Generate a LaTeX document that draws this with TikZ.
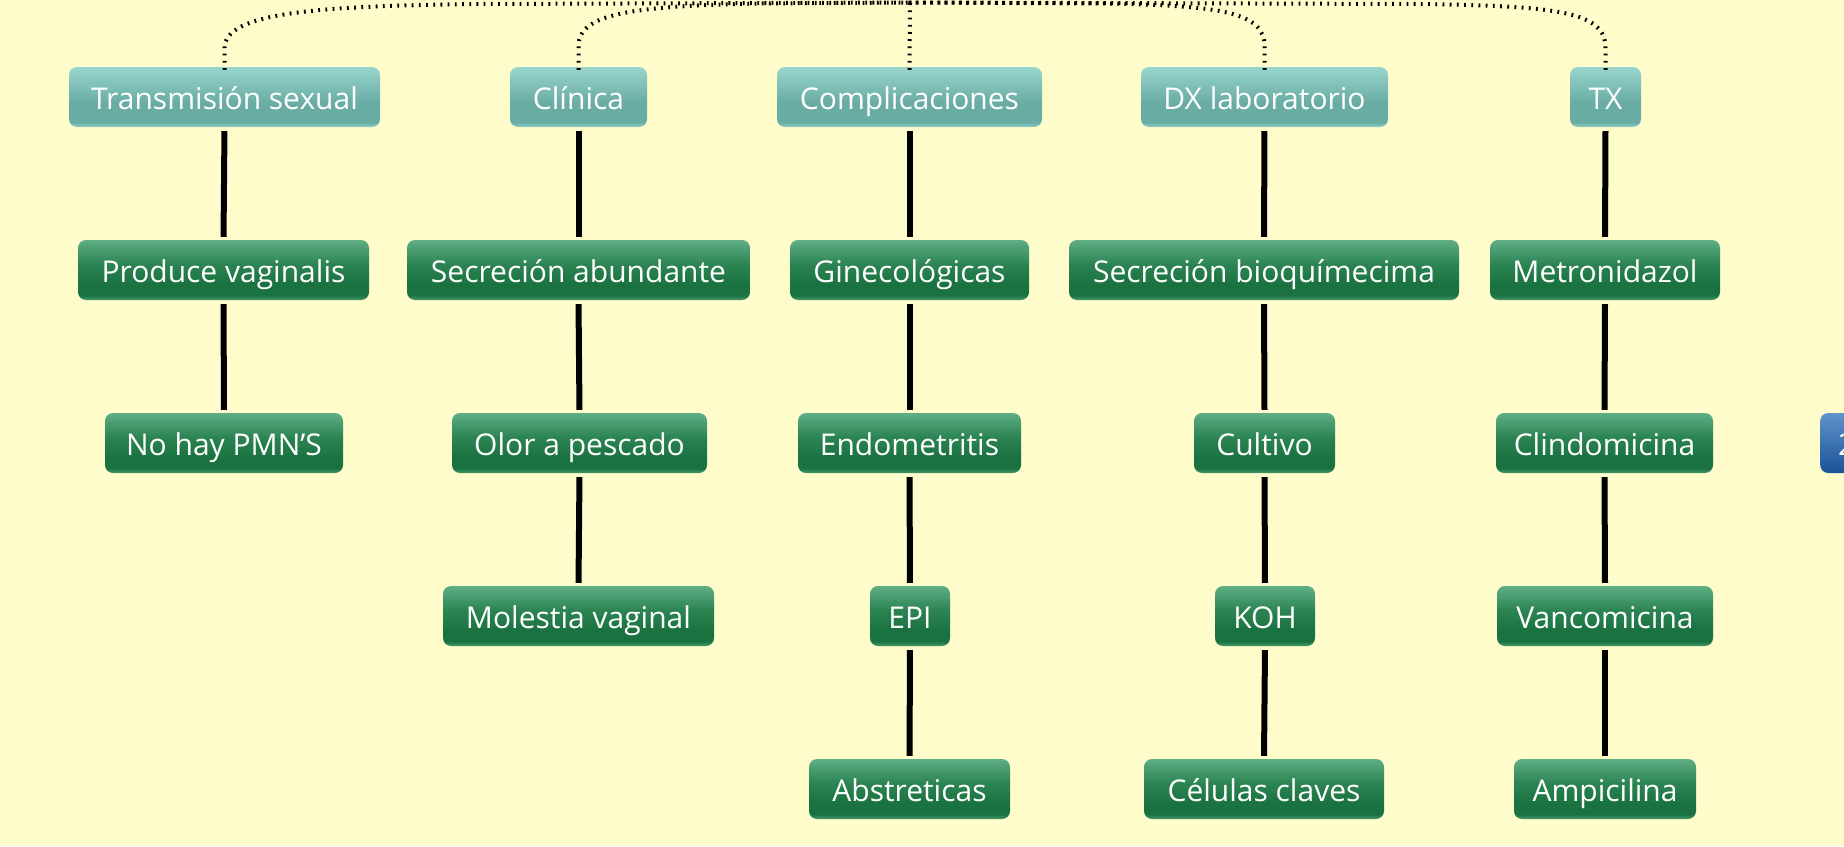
\documentclass[tikz,border=0pt]{standalone}
\usepackage{fontspec}
\setmainfont{Open Sans}
\definecolor{bg}{HTML}{FFFCCB}
\definecolor{ttop}{HTML}{98D5CD}
\definecolor{tbot}{HTML}{69ACA4}
\definecolor{tedge}{HTML}{92CFC7}
\definecolor{gtop}{HTML}{5FAE84}
\definecolor{gmid}{HTML}{2C8453}
\definecolor{gbot}{HTML}{1A7240}
\definecolor{gedge}{HTML}{47986C}
\definecolor{btop}{HTML}{5E93CC}
\definecolor{bbot}{HTML}{1C5297}
\pgfdeclareverticalshading{tealshade}{100bp}{color(0bp)=(tedge); color(25bp)=(tedge); color(29bp)=(tbot); color(45bp)=(tbot); color(75bp)=(ttop); color(100bp)=(ttop)}
\pgfdeclareverticalshading{greenshade}{100bp}{color(0bp)=(gedge); color(25bp)=(gedge); color(29bp)=(gbot); color(38bp)=(gbot); color(55bp)=(gmid); color(75bp)=(gtop); color(100bp)=(gtop)}
\pgfdeclareverticalshading{blueshade}{100bp}{color(0bp)=(bbot); color(25bp)=(bbot); color(75bp)=(btop); color(100bp)=(btop)}
\tikzset{
  box/.style={rounded corners=8pt, minimum height=60pt, inner xsep=6pt, inner ysep=0pt,
    text height=30pt, text depth=6pt,
    text=white, font=\fontsize{30}{36}\selectfont, anchor=center},
  topbox/.style={box, shading=tealshade},
  subbox/.style={box, shading=greenshade},
  bluebox/.style={box, shading=blueshade},
  conn/.style={line width=6pt, black, shorten <=4pt, shorten >=3pt},
  dotline/.style={line width=4pt, black, dash pattern=on 1.8pt off 5.4pt}
}
\begin{document}
\begin{tikzpicture}[x=1pt,y=-1pt]
\fill[bg] (0,0) rectangle (1844,846);
\useasboundingbox (0,0) rectangle (1844,846);
% top row
\node[topbox, minimum width=311pt] (t1) at (224.5,97) {Transmisión sexual};
\node[topbox, minimum width=137pt] (t2) at (578.5,97) {Clínica};
\node[topbox, minimum width=265pt] (t3) at (909.5,97) {Complicaciones};
\node[topbox, minimum width=247pt] (t4) at (1264.5,97) {DX laboratorio};
\node[topbox, minimum width=71pt] (t5) at (1605.5,97) {TX};
% column 1
\node[subbox, minimum width=291pt] (a2) at (223.5,270) {Produce vaginalis};
\node[subbox, minimum width=238pt] (a3) at (224,443) {No hay PMN’S};
% column 2
\node[subbox, minimum width=343pt] (b2) at (578.5,270) {Secreción abundante};
\node[subbox, minimum width=255pt] (b3) at (579.5,443) {Olor a pescado};
\node[subbox, minimum width=271pt] (b4) at (578.5,616) {Molestia vaginal};
% column 3
\node[subbox, minimum width=239pt] (c2) at (909.5,270) {Ginecológicas};
\node[subbox, minimum width=223pt] (c3) at (909.5,443) {Endometritis};
\node[subbox, minimum width=80pt] (c4) at (910,616) {EPI};
\node[subbox, minimum width=201pt] (c5) at (909.5,789) {Abstreticas};
% column 4
\node[subbox, minimum width=390pt] (d2) at (1264,270) {Secreción bioquímecima};
\node[subbox, minimum width=141pt] (d3) at (1264.5,443) {Cultivo};
\node[subbox, minimum width=100pt] (d4) at (1265,616) {KOH};
\node[subbox, minimum width=240pt] (d5) at (1264,789) {Células claves};
% column 5
\node[subbox, minimum width=230pt] (e2) at (1605,270) {Metronidazol};
\node[subbox, minimum width=217pt] (e3) at (1604.5,443) {Clindomicina};
\node[subbox, minimum width=216pt] (e4) at (1605,616) {Vancomicina};
\node[subbox, minimum width=182pt] (e5) at (1605,789) {Ampicilina};
% partial node at right edge
\node[bluebox, minimum width=120pt, anchor=west, align=left, inner xsep=18pt, text width=84pt] (f3) at (1820,443) {2};
% vertical connectors
\draw[conn] (t1.south) -- (a2.north);
\draw[conn] (a2.south) -- (a3.north);
\draw[conn] (t2.south) -- (b2.north);
\draw[conn] (b2.south) -- (b3.north);
\draw[conn] (b3.south) -- (b4.north);
\draw[conn] (t3.south) -- (c2.north);
\draw[conn] (c2.south) -- (c3.north);
\draw[conn] (c3.south) -- (c4.north);
\draw[conn] (c4.south) -- (c5.north);
\draw[conn] (t4.south) -- (d2.north);
\draw[conn] (d2.south) -- (d3.north);
\draw[conn] (d3.south) -- (d4.north);
\draw[conn] (d4.south) -- (d5.north);
\draw[conn] (t5.south) -- (e2.north);
\draw[conn] (e2.south) -- (e3.north);
\draw[conn] (e3.south) -- (e4.north);
\draw[conn] (e4.south) -- (e5.north);
% dotted hub connectors
\coordinate (hub) at (910,2.5);
\draw[dotline] ([yshift=-3pt]t1.north) -- (224.5,48) .. controls (224.5,12) and (320,6) .. (480,4) -- (hub);
\draw[dotline] ([yshift=-3pt]t2.north) -- (578.5,46) .. controls (578.5,14) and (630,6) .. (760,3.5) -- (hub);
\draw[dotline] ([yshift=-3pt]t3.north) -- (hub);
\draw[dotline] ([yshift=-3pt]t4.north) -- (1264.5,46) .. controls (1264.5,12) and (1220,6) .. (1110,3.5) -- (hub);
\draw[dotline] ([yshift=-3pt]t5.north) -- (1605.5,48) .. controls (1605.5,12) and (1560,6) .. (1420,4) -- (hub);
\end{tikzpicture}
\end{document}
